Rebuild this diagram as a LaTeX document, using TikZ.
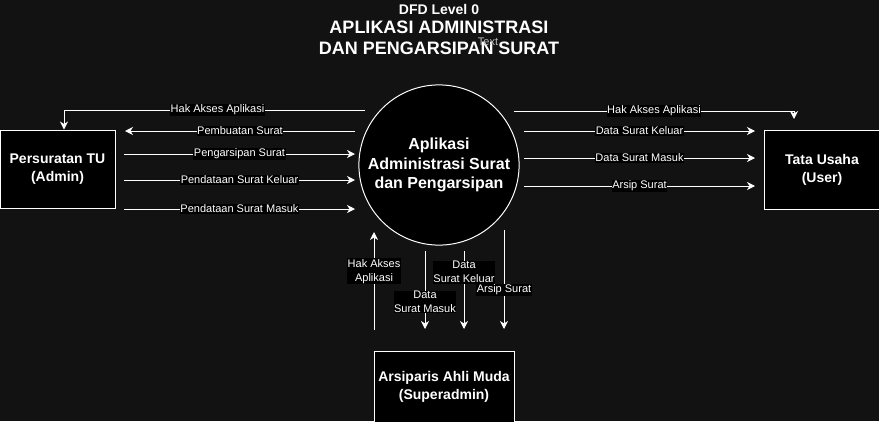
\documentclass[tikz,border=0pt]{standalone}
\usepackage{fontspec}
\setmainfont{Liberation Sans}
\usetikzlibrary{arrows.meta}
\definecolor{bgdark}{HTML}{121212}
\definecolor{faint}{HTML}{BBBBBB}

\begin{document}
\begin{tikzpicture}[x=1pt, y=-1pt,
				   every node/.style={text=white, align=center},
				   entity/.style={draw=white, fill=black, line width=1pt, font=\fontsize{14}{18}\selectfont\bfseries, minimum width=115pt, minimum height=78pt},
				   process/.style={circle, draw=white, fill=black, line width=1pt, minimum size=150pt, font=\fontsize{16}{19.5}\selectfont\bfseries},
				   flow/.style={draw=white, line width=1pt, -{Stealth[length=8pt, width=8pt, inset=2.5pt]}},
				   lbl/.style={fill=black, inner sep=0.6pt, font=\fontsize{11}{14}\selectfont}]
\fill[bgdark] (0,0) rectangle (879,421);
\useasboundingbox (0,0) rectangle (879,421);
\node[font=\fontsize{14}{15}\selectfont\bfseries] (lvl) at (439,9) {DFD Level 0};
\node[font=\fontsize{18}{20.5}\selectfont\bfseries] (judul) at (439,38) {APLIKASI ADMINISTRASI\\DAN PENGARSIPAN SURAT};
\node[text=faint, font=\fontsize{11}{13}\selectfont] (txt) at (488,42) {Text};
\node[process] (app) at (439,165) {Aplikasi\\Administrasi Surat\\dan Pengarsipan};
\node[entity] (admin) at (57.5,169) {Persuratan TU\\(Admin)};
\node[entity, minimum width=116pt, minimum height=79pt] (user) at (822,169.5) {Tata Usaha\\(User)};
\node[entity, minimum width=140pt, minimum height=71pt] (sadmin) at (444,386.5) {Arsiparis Ahli Muda\\(Superadmin)};
\coordinate (hkl) at (365,110);
\draw[flow] (hkl) -| node[lbl, pos=0.245] {Hak Akses Aplikasi} ([xshift=6.5pt]admin.north);
\foreach \y/\xa/\xb/\t [count=\i] in {131/355/125/Pembuatan Surat, 154/124/355/Pengarsipan Surat,
		180/124/355/Pendataan Surat Keluar, 209/124/355/Pendataan Surat Masuk}{
	\coordinate (ka\i) at (\xa,\y);
	\coordinate (kb\i) at (\xb,\y);
	\draw[flow] (ka\i) -- node[lbl] {\t} (kb\i);
}
\coordinate (hkr) at (514,111);
\coordinate (hkr2) at (794,119);
\draw[flow] (hkr) -| node[lbl, pos=0.25] {Hak Akses Aplikasi} (hkr2);
\foreach \y/\t [count=\i] in {131/Data Surat Keluar, 158/Data Surat Masuk, 186/Arsip Surat}{
	\coordinate (ua\i) at (524,\y);
	\coordinate (ub\i) at (755,\y);
	\draw[flow] (ua\i) -- node[lbl] {\t} (ub\i);
}
\foreach \x/\ya/\yb/\p/\t [count=\i] in {374/330/232/0.6/{Hak Akses\\Aplikasi}, 425/251/329/0.654/{Data\\Surat Masuk},
		464/251/329/0.27/{Data\\Surat Keluar}, 504/230/329/0.606/{Arsip Surat}}{
	\coordinate (sa\i) at (\x,\ya);
	\coordinate (sb\i) at (\x,\yb);
	\draw[flow] (sa\i) -- node[lbl, pos=\p] {\t} (sb\i);
}
\end{tikzpicture}
\end{document}
